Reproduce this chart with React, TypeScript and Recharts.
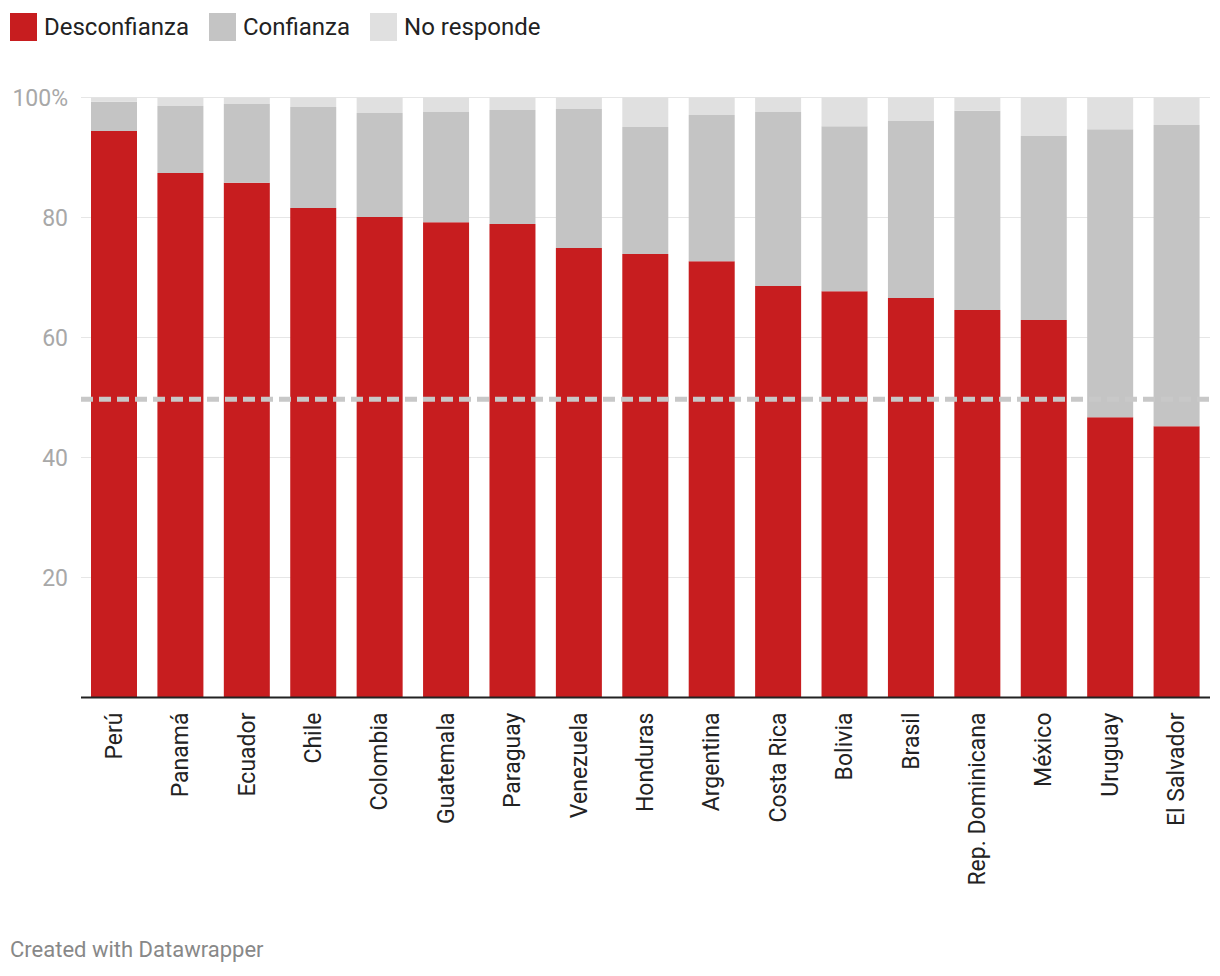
import React from "react";
import {
  BarChart,
  Bar,
  XAxis,
  YAxis,
  CartesianGrid,
  ReferenceLine,
} from "recharts";

const countries = [
  "Perú", "Panamá", "Ecuador", "Chile", "Colombia", "Guatemala", "Paraguay",
  "Venezuela", "Honduras", "Argentina", "Costa Rica", "Bolivia", "Brasil",
  "Rep. Dominicana", "México", "Uruguay", "El Salvador",
];
const desconfianza = [94.4, 87.4, 85.8, 81.6, 80.1, 79.2, 78.9, 74.9, 73.9, 72.7, 68.6, 67.7, 66.6, 64.6, 62.9, 46.7, 45.2];
const confianza = [4.9, 11.2, 13.1, 16.8, 17.3, 18.4, 19.0, 23.2, 21.2, 24.4, 29.0, 27.5, 29.5, 33.2, 30.7, 48.0, 50.2];
const noResponde = [0.7, 1.4, 1.1, 1.6, 2.6, 2.4, 2.1, 1.9, 4.9, 2.9, 2.4, 4.8, 3.9, 2.2, 6.4, 5.3, 4.6];
const yTicks = [20, 40, 60, 80, 100];
const referenceValue = 49.7;

const RED = "#c71d1f";
const GRAY = "#c4c4c4";
const LIGHT = "#e0e0e0";
const FONT = "Roboto, sans-serif";

const data = countries.map((c, i) => ({
  country: c,
  desconfianza: desconfianza[i],
  confianza: confianza[i],
  noResponde: noResponde[i],
}));

const legendItems = [
  { label: "Desconfianza", color: RED },
  { label: "Confianza", color: GRAY },
  { label: "No responde", color: LIGHT },
];

// rotated country labels, anchored at the top just under the axis
function CountryTick(props: any) {
  const { x, y, payload } = props;
  return (
    <text
      transform={`translate(${x},${y + 7}) rotate(-90)`}
      textAnchor="end"
      dominantBaseline="central"
      fontSize={23}
      fontFamily={FONT}
      fill="#222"
    >
      {payload.value}
    </text>
  );
}

export default function App() {
  return (
    <div
      style={{
        position: "absolute",
        left: 0,
        top: 0,
        width: 1220,
        height: 976,
        background: "#fff",
        fontFamily: FONT,
      }}
    >
      <div style={{ position: "absolute", left: 10, top: 13, display: "flex", alignItems: "center" }}>
        {legendItems.map((it) => (
          <div key={it.label} style={{ display: "flex", alignItems: "center", marginRight: 20 }}>
            <div style={{ width: 27, height: 28, background: it.color, marginRight: 7 }} />
            <span style={{ fontSize: 24, color: "#222", lineHeight: "28px" }}>{it.label}</span>
          </div>
        ))}
      </div>

      <div style={{ position: "absolute", left: 0, top: 0 }}>
        <BarChart
          width={1220}
          height={900}
          data={data}
          margin={{ top: 97.5, right: 10, left: 0, bottom: 0 }}
          barCategoryGap={0}
        >
          <CartesianGrid vertical={false} stroke="#e6e6e6" strokeWidth={1} />
          <XAxis
            dataKey="country"
            interval={0}
            height={202.5}
            tickLine={false}
            axisLine={{ stroke: "#222", strokeWidth: 2 }}
            tick={<CountryTick />}
          />
          <YAxis
            width={81}
            domain={[0, 100]}
            ticks={yTicks}
            axisLine={false}
            tickLine={false}
            tickMargin={7}
            tickFormatter={(v: number) => (v === 100 ? "100%" : String(v))}
            tick={{ fill: "#a8a8a8", fontSize: 23, fontFamily: FONT }}
          />
          <Bar dataKey="desconfianza" stackId="a" fill={RED} barSize={46} isAnimationActive={false} />
          <Bar dataKey="confianza" stackId="a" fill={GRAY} barSize={46} isAnimationActive={false} />
          <Bar dataKey="noResponde" stackId="a" fill={LIGHT} barSize={46} isAnimationActive={false} />
          <ReferenceLine y={referenceValue} stroke="#c8c8c8" strokeWidth={5} strokeDasharray="12 6" />
        </BarChart>
      </div>

      <div
        style={{
          position: "absolute",
          left: 10,
          top: 937,
          fontSize: 22,
          color: "#888",
        }}
      >
        Created with Datawrapper
      </div>
    </div>
  );
}
